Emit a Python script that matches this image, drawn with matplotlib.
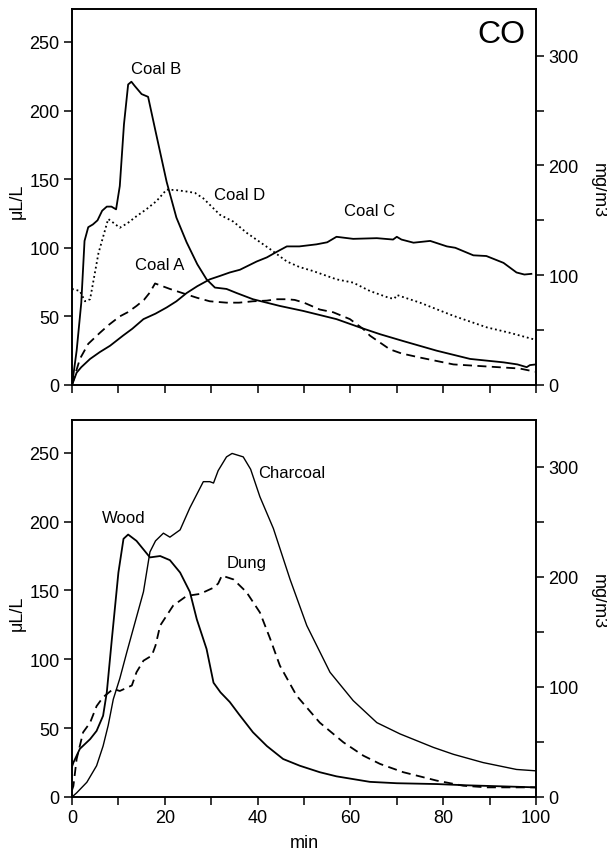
import matplotlib
matplotlib.use("Agg")
import matplotlib.pyplot as plt
import numpy as np

plt.rcParams['font.family'] = ['Liberation Sans', 'DejaVu Sans']

# ---------------- Top panel: coals ----------------
coal_b_x = [0, 1, 2, 2.7, 3.5, 4.5, 5.5, 6.5, 7.5, 8.5, 9.5, 10.3, 11.2, 12.1, 12.8, 13.5, 15, 16.4, 18,
            20.4, 22.5, 24.7, 27, 29, 30.8, 33.3, 35.5, 39, 44.8, 49.8, 57, 62, 64.2, 66.4, 71.4, 78.6,
            85.8, 93, 96, 98, 98.7, 100]
coal_b_y = [0, 25, 60, 105, 115, 117, 120, 127, 130, 130, 128, 145, 190, 219, 221, 218, 212, 210, 185,
            148, 122, 104, 88, 77, 71, 70, 67, 62.5, 57.6, 54, 48, 42, 39.5, 37, 32, 25,
            19, 16.5, 15, 13, 14.5, 15]

coal_a_x = [0, 1.7, 3.5, 6, 8, 10.3, 12, 13.9, 15.5, 16.8, 17.9, 19.5, 21.1, 24.7, 27, 29.7, 33.3, 36,
            39, 42, 44, 46.3, 48, 50, 53.4, 56.3, 59.9, 62.8, 64.2, 68.5, 71, 75, 78.6, 82.2, 89.4,
            96.5, 99.8]
coal_a_y = [0, 19, 30, 38, 44, 50, 53, 57.6, 62, 67.5, 74, 72, 70, 66, 63.5, 61, 60, 60,
            61, 61.5, 62.5, 62.5, 62, 60, 55, 53, 48, 40.7, 36, 26, 23, 20, 17.5, 15, 13.5,
            12, 9.7]

coal_d_x = [0, 1.7, 2.8, 3.9, 5.7, 7.8, 9, 10.3, 12, 13.9, 16, 18.2, 20.4, 22.5, 24.7, 26.5, 28.3,
            31.9, 34.8, 37.6, 42.7, 46.3, 49, 52, 57, 60.6, 64.2, 68.5, 69.5, 70, 75, 82.2, 89.4,
            94.4, 99.4, 100]
coal_d_y = [70, 68.5, 61, 62.5, 96, 121, 118, 114.6, 118, 123, 128, 134, 142.4, 142, 141, 140, 136,
            124, 119, 111, 99, 90, 86, 83, 77, 74.6, 68.5, 63.3, 63, 65.6, 60, 50.4, 42,
            38, 33.4, 33]

coal_c_x = [0, 1, 2, 3.9, 6, 8.2, 11, 13, 15.4, 18, 20.4, 22.5, 24.7, 27, 29.7, 31.9, 34, 36.2, 39.8,
            42, 44.1, 46.3, 49, 52.7, 55, 57, 60.6, 65.7, 69.2, 70, 71, 73.6, 77.2, 80.8, 82.6, 86.5,
            89.3, 93, 95.8, 97.5, 99]
coal_c_y = [0, 9, 13, 19, 24, 28.6, 36, 41, 48, 52, 56.5, 61, 67, 72, 77, 79.5, 82, 84, 90,
            93, 97, 101, 101, 102.5, 104, 108, 106.5, 107, 106, 108, 106, 103.7, 105, 101, 100, 94.5,
            94, 89, 82, 80.5, 81]

# ---------------- Bottom panel: biomass ----------------
wood_x = [0, 0.3, 1.7, 3.9, 5.3, 6.7, 7.5, 8.6, 10, 11.1, 12.1, 13.9, 16.8, 19, 21.1, 23.3, 25.4, 26.9,
          29, 30.5, 32, 34, 36, 39, 42, 45.5, 49.1, 53.4, 57, 60.6, 64.2, 70, 78.6, 85, 90, 100]
wood_y = [22, 25, 35, 42, 48, 59, 76, 115, 163, 187.5, 190.6, 186, 174, 175, 172, 163, 149, 129,
          107.5, 83, 76, 69, 60, 47, 37, 27.6, 22.7, 18, 15, 13, 11, 10, 9.4, 8.5, 8, 7]

charcoal_x = [0, 1, 3.2, 5.3, 6.7, 7.8, 8.9, 10.3, 11.8, 13.6, 15.4, 16.8, 18, 19.7, 21.1, 23.3, 25.4,
              28.3, 29.7, 30.5, 31.5, 33.3, 34.5, 36.9, 38.5, 40.5, 43.4, 47, 50.6, 55.6, 60.6, 65.7,
              70.7, 77.9, 82.2, 88.6, 95.8, 100]
charcoal_y = [0, 3, 10.7, 22.7, 37, 52, 71, 86, 105, 127, 149, 178, 186, 191.6, 188.7, 194, 210,
              229, 229, 228, 237, 247, 249.5, 247, 238, 218, 195, 158, 124.5, 90.6, 70, 54,
              45.8, 36, 31, 25, 20, 19]

dung_x = [0, 0.3, 1, 2.4, 3.9, 5.3, 6.7, 8.9, 10.3, 12.9, 13.9, 15.4, 17.2, 18, 19, 21.8, 24.7, 27.6,
          30.5, 31.5, 32.3, 34.8, 37.6, 40.5, 42.7, 44.8, 48.4, 53.4, 58.5, 62.8, 66.4, 71.4, 78.6,
          84.3, 89.4, 95, 100]
dung_y = [5, 8, 27.6, 47, 54, 66, 72.5, 78.5, 77, 81, 90.6, 99, 102.7, 110, 124.5, 139, 146, 147.5,
          152, 155, 160.8, 158, 148.8, 134, 115, 95.4, 73.6, 54, 39.7, 30, 24, 18, 11.9,
          8.2, 7, 7, 7]

x_ticks = [0, 20, 40, 60, 80, 100]
y_ticks = [0, 50, 100, 150, 200, 250]
y2_ticks = [0, 100, 200, 300]
CONV = 1.25  # mg/m3 per uL/L for CO

W, H = 607, 853
fig = plt.figure(figsize=(W / 100, H / 100), dpi=100)

axL = 72 / W
axW = (536 - 72) / W
ax1 = fig.add_axes([axL, 1 - 386 / H, axW, (386 - 10) / H])
ax2 = fig.add_axes([axL, 1 - 798 / H, axW, (798 - 420.7) / H])

YMAX = 274
TS = 13     # tick label size
LS = 12     # annotation size

solid = dict(color='black', lw=1.3, solid_joinstyle='round')
for ax in (ax1, ax2):
    ax.set_xlim(0, 100)
    ax.set_ylim(0, YMAX)
    ax.set_yticks(y_ticks)
    ax.set_xticks(np.arange(0, 101, 10))
    ax.tick_params(direction='out', length=6, width=1.1, labelsize=TS, pad=3)
    for s in ax.spines.values():
        s.set_linewidth(1.2)
    ax.set_ylabel('μL/L', fontsize=TS, va='center')
    ax.yaxis.set_label_coords(-0.118, 0.49)
    axr = ax.twinx()
    axr.set_ylim(0, YMAX * CONV)
    axr.set_yticks(np.arange(0, 301, 50))
    axr.set_yticklabels([str(v) if v in y2_ticks else '' for v in np.arange(0, 301, 50)])
    axr.tick_params(direction='out', length=6, width=1.1, labelsize=TS, pad=3)
    for s in axr.spines.values():
        s.set_linewidth(1.2)
    axr.set_ylabel('mg/m3', fontsize=TS, rotation=270, va='center')
    axr.yaxis.set_label_coords(1.134, 0.52)

ax1.set_xticklabels([])
ax2.set_xticklabels([str(v) if v in x_ticks else '' for v in range(0, 101, 10)])
ax2.set_xlabel('min', fontsize=TS, va='center')
ax2.xaxis.set_label_coords(0.5, -0.12)

# top
ax1.plot(coal_b_x, coal_b_y, **solid)
ax1.plot(coal_c_x, coal_c_y, **solid)
ax1.plot(coal_a_x, coal_a_y, color='black', lw=1.3, linestyle=(0, (5, 3)))
ax1.plot(coal_d_x, coal_d_y, color='black', lw=1.3, linestyle=(0, (1, 1.6)))
ax1.text(18.2, 231, 'Coal B', fontsize=LS, ha='center', va='center')
ax1.text(36.2, 139, 'Coal D', fontsize=LS, ha='center', va='center')
ax1.text(19, 88, 'Coal A', fontsize=LS, ha='center', va='center')
ax1.text(64.2, 127, 'Coal C', fontsize=LS, ha='center', va='center')
ax1.text(92.6, 256, 'CO', fontsize=23, ha='center', va='center')

# bottom
ax2.plot(wood_x, wood_y, **solid)
ax2.plot(charcoal_x, charcoal_y, color='black', lw=1.0)
ax2.plot(dung_x, dung_y, color='black', lw=1.3, linestyle=(0, (5, 3)))
ax2.text(11.1, 203, 'Wood', fontsize=LS, ha='center', va='center')
ax2.text(47.3, 236, 'Charcoal', fontsize=LS, ha='center', va='center')
ax2.text(37.6, 170.5, 'Dung', fontsize=LS, ha='center', va='center')

fig.savefig('out.png', dpi=100)
